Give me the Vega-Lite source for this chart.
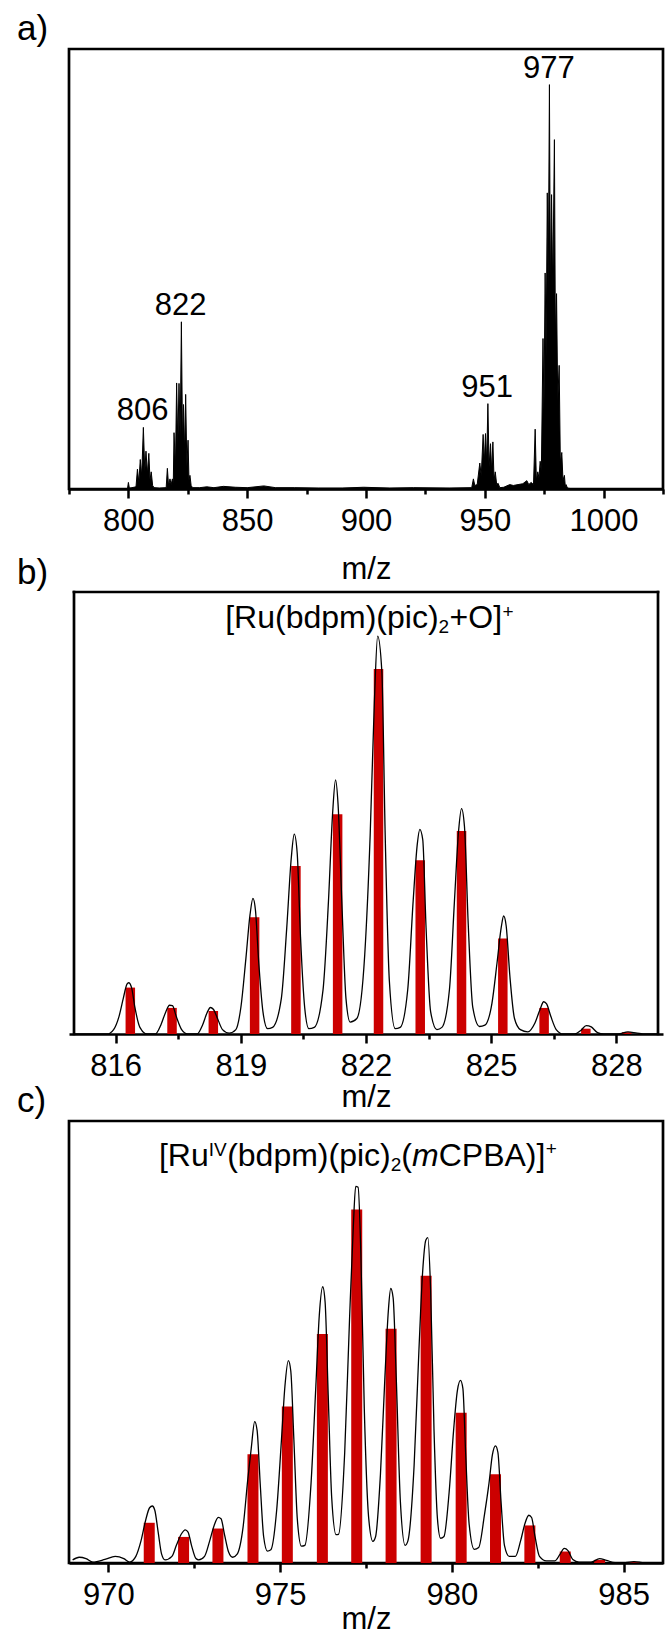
{
  "$schema": "https://vega.github.io/schema/vega-lite/v6.json",
  "padding": {"left": 15, "top": 10, "right": 5, "bottom": 0},
  "background": "white",
  "spacing": 87,
  "bounds": "flush",
  "config": {
    "font": "Liberation Sans",
    "view": {"stroke": "black", "strokeWidth": 2.7},
    "axis": {
      "grid": false,
      "domainColor": "black",
      "domainWidth": 2.7,
      "tickColor": "black",
      "tickWidth": 2.5,
      "tickSize": 9,
      "labelFont": "Liberation Sans",
      "labelFontSize": 31,
      "labelColor": "black",
      "labelPadding": 8,
      "labelFlush": false,
      "labelOverlap": false,
      "labelBound": false,
      "format": "d",
      "titleFont": "Liberation Sans",
      "titleFontSize": 31,
      "titleFontWeight": "normal",
      "titleColor": "black",
      "titleBaseline": "alphabetic"
    },
    "title": {
      "font": "Liberation Sans",
      "fontSize": 35,
      "fontWeight": "normal",
      "color": "black",
      "anchor": "start",
      "frame": "group",
      "dx": -52,
      "offset": 2,
      "baseline": "alphabetic"
    }
  },
  "datasets": {
    "specA": [
      {"mz": 775, "i": 0}, {"mz": 799.6, "i": 0}, {"mz": 800.0, "i": 1.5}, {"mz": 800.4, "i": 0.2}, {"mz": 801.5, "i": 0.3},
      {"mz": 803.2, "i": 0.5}, {"mz": 803.8, "i": 4.5}, {"mz": 804.4, "i": 1.5}, {"mz": 805.0, "i": 6.7}, {"mz": 805.6, "i": 3.0},
      {"mz": 806.3, "i": 14.0}, {"mz": 806.9, "i": 4.0}, {"mz": 807.4, "i": 8.6}, {"mz": 808.0, "i": 3.5}, {"mz": 808.6, "i": 8.1},
      {"mz": 809.1, "i": 2.0}, {"mz": 809.6, "i": 3.9}, {"mz": 810.2, "i": 0.8}, {"mz": 810.8, "i": 0.3}, {"mz": 813, "i": 0.2},
      {"mz": 815.9, "i": 0.3}, {"mz": 816.4, "i": 4.7}, {"mz": 816.9, "i": 0.8}, {"mz": 817.5, "i": 2.3}, {"mz": 818.0, "i": 1.0},
      {"mz": 818.5, "i": 2.3}, {"mz": 818.9, "i": 1.5}, {"mz": 819.2, "i": 12.8}, {"mz": 819.8, "i": 5.0}, {"mz": 820.3, "i": 24.1},
      {"mz": 820.8, "i": 10.0}, {"mz": 821.3, "i": 24.0}, {"mz": 821.8, "i": 12.0}, {"mz": 822.3, "i": 38.0}, {"mz": 822.8, "i": 10.0},
      {"mz": 823.2, "i": 19.2}, {"mz": 823.7, "i": 8.0}, {"mz": 824.1, "i": 21.5}, {"mz": 824.6, "i": 5.0}, {"mz": 825.1, "i": 11.1},
      {"mz": 825.5, "i": 2.0}, {"mz": 825.9, "i": 3.1}, {"mz": 826.4, "i": 0.8}, {"mz": 827.0, "i": 0.3}, {"mz": 830, "i": 0.3},
      {"mz": 833, "i": 0.5}, {"mz": 836, "i": 0.3}, {"mz": 840, "i": 0.6}, {"mz": 845, "i": 0.4}, {"mz": 850, "i": 0.3},
      {"mz": 857, "i": 0.7}, {"mz": 862, "i": 0.3}, {"mz": 870, "i": 0.3}, {"mz": 880, "i": 0.2}, {"mz": 890, "i": 0.2},
      {"mz": 899, "i": 0.4}, {"mz": 910, "i": 0.2}, {"mz": 920, "i": 0.3}, {"mz": 935, "i": 0.2}, {"mz": 944.5, "i": 0.3},
      {"mz": 945.2, "i": 2.3}, {"mz": 945.8, "i": 0.8}, {"mz": 946.8, "i": 1.0}, {"mz": 947.9, "i": 5.9}, {"mz": 948.5, "i": 3.0},
      {"mz": 949.3, "i": 12.4}, {"mz": 949.8, "i": 6.0}, {"mz": 950.3, "i": 12.6}, {"mz": 950.8, "i": 6.0}, {"mz": 951.3, "i": 19.4},
      {"mz": 951.8, "i": 5.0}, {"mz": 952.4, "i": 10.3}, {"mz": 952.9, "i": 4.0}, {"mz": 953.4, "i": 10.7}, {"mz": 953.9, "i": 2.0},
      {"mz": 954.4, "i": 3.9}, {"mz": 955.0, "i": 1.0}, {"mz": 955.6, "i": 1.3}, {"mz": 956.3, "i": 0.3}, {"mz": 958, "i": 0.4},
      {"mz": 960.5, "i": 1.0}, {"mz": 962, "i": 0.8}, {"mz": 964, "i": 1.0}, {"mz": 966, "i": 1.2}, {"mz": 967.7, "i": 1.9},
      {"mz": 968.5, "i": 1.0}, {"mz": 969.5, "i": 1.5}, {"mz": 970.5, "i": 1.0}, {"mz": 971.2, "i": 13.6}, {"mz": 971.7, "i": 2.0},
      {"mz": 972.3, "i": 3.9}, {"mz": 972.8, "i": 2.5}, {"mz": 973.3, "i": 6.3}, {"mz": 973.8, "i": 4.0}, {"mz": 974.5, "i": 34.2},
      {"mz": 974.9, "i": 18.0}, {"mz": 975.4, "i": 49.1}, {"mz": 975.8, "i": 30.0}, {"mz": 976.3, "i": 67.3}, {"mz": 976.7, "i": 45.0},
      {"mz": 977.2, "i": 91.9}, {"mz": 977.6, "i": 45.0}, {"mz": 978.1, "i": 66.9}, {"mz": 978.6, "i": 45.0}, {"mz": 979.3, "i": 79.4},
      {"mz": 979.7, "i": 35.0}, {"mz": 980.2, "i": 44.4}, {"mz": 980.7, "i": 20.0}, {"mz": 981.3, "i": 28.1}, {"mz": 981.8, "i": 6.0},
      {"mz": 982.4, "i": 8.3}, {"mz": 982.9, "i": 2.0}, {"mz": 983.5, "i": 3.1}, {"mz": 983.9, "i": 0.5}, {"mz": 984.2, "i": 1.0},
      {"mz": 984.8, "i": 0.2}, {"mz": 986, "i": 0.1}, {"mz": 1025, "i": 0.1}
    ],
    "labelsA": [
      {"mz": 806, "i": 14.0, "label": "806"},
      {"mz": 822, "i": 38.0, "label": "822"},
      {"mz": 951, "i": 19.4, "label": "951"},
      {"mz": 977, "i": 91.9, "label": "977"}
    ],
    "barsB": [
      {"mz": 816.35, "i": 10.5}, {"mz": 817.35, "i": 5.9}, {"mz": 818.34, "i": 5.2}, {"mz": 819.33, "i": 26.4},
      {"mz": 820.32, "i": 38.0}, {"mz": 821.32, "i": 49.7}, {"mz": 822.30, "i": 82.6}, {"mz": 823.30, "i": 39.3},
      {"mz": 824.29, "i": 45.9}, {"mz": 825.28, "i": 21.6}, {"mz": 826.27, "i": 5.9}, {"mz": 827.27, "i": 1.2},
      {"mz": 828.25, "i": 0.4}
    ],
    "lineB": [
      {"mz": 815.0, "i": 0}, {"mz": 815.8, "i": 0},
      {"mz": 815.95, "i": 1.0}, {"mz": 816.08, "i": 4.0}, {"mz": 816.18, "i": 8.0}, {"mz": 816.27, "i": 11.3}, {"mz": 816.31, "i": 11.6}, {"mz": 816.38, "i": 10.5}, {"mz": 816.46, "i": 6.0}, {"mz": 816.58, "i": 1.5}, {"mz": 816.75, "i": 0},
      {"mz": 816.95, "i": 0}, {"mz": 817.08, "i": 2.0}, {"mz": 817.2, "i": 5.0}, {"mz": 817.29, "i": 6.5}, {"mz": 817.36, "i": 6.4}, {"mz": 817.45, "i": 4.0}, {"mz": 817.58, "i": 1.0}, {"mz": 817.72, "i": 0},
      {"mz": 817.95, "i": 0}, {"mz": 818.08, "i": 2.0}, {"mz": 818.19, "i": 4.8}, {"mz": 818.27, "i": 6.0}, {"mz": 818.34, "i": 5.6}, {"mz": 818.44, "i": 3.5}, {"mz": 818.56, "i": 1.0}, {"mz": 818.72, "i": 0.2},
      {"mz": 818.88, "i": 1.0}, {"mz": 819.0, "i": 6.0}, {"mz": 819.12, "i": 17.0}, {"mz": 819.22, "i": 27.0}, {"mz": 819.29, "i": 30.7}, {"mz": 819.35, "i": 28.0}, {"mz": 819.43, "i": 16.0}, {"mz": 819.53, "i": 5.0}, {"mz": 819.64, "i": 1.2},
      {"mz": 819.76, "i": 1.5}, {"mz": 819.97, "i": 8.0}, {"mz": 820.1, "i": 24.0}, {"mz": 820.21, "i": 40.0}, {"mz": 820.28, "i": 45.2}, {"mz": 820.35, "i": 41.0}, {"mz": 820.43, "i": 22.0}, {"mz": 820.53, "i": 6.0}, {"mz": 820.63, "i": 1.2},
      {"mz": 820.76, "i": 1.5}, {"mz": 820.97, "i": 10.0}, {"mz": 821.1, "i": 30.0}, {"mz": 821.2, "i": 50.0}, {"mz": 821.27, "i": 57.5}, {"mz": 821.33, "i": 52.0}, {"mz": 821.42, "i": 30.0}, {"mz": 821.52, "i": 8.0}, {"mz": 821.62, "i": 2.7},
      {"mz": 821.78, "i": 3.5}, {"mz": 821.97, "i": 18.0}, {"mz": 822.1, "i": 45.0}, {"mz": 822.2, "i": 75.0}, {"mz": 822.28, "i": 90.0}, {"mz": 822.38, "i": 82.0}, {"mz": 822.46, "i": 45.0}, {"mz": 822.56, "i": 12.0}, {"mz": 822.7, "i": 1.2},
      {"mz": 822.82, "i": 1.5}, {"mz": 823.0, "i": 10.0}, {"mz": 823.13, "i": 30.0}, {"mz": 823.23, "i": 43.0}, {"mz": 823.29, "i": 46.3}, {"mz": 823.36, "i": 44.0}, {"mz": 823.44, "i": 24.0}, {"mz": 823.55, "i": 5.0}, {"mz": 823.7, "i": 1.0},
      {"mz": 823.82, "i": 1.5}, {"mz": 824.0, "i": 10.0}, {"mz": 824.12, "i": 30.0}, {"mz": 824.22, "i": 46.0}, {"mz": 824.29, "i": 51.0}, {"mz": 824.36, "i": 47.0}, {"mz": 824.45, "i": 25.0}, {"mz": 824.56, "i": 6.0}, {"mz": 824.72, "i": 1.7},
      {"mz": 824.85, "i": 2.0}, {"mz": 825.02, "i": 7.0}, {"mz": 825.14, "i": 16.0}, {"mz": 825.24, "i": 24.0}, {"mz": 825.3, "i": 26.7}, {"mz": 825.36, "i": 24.5}, {"mz": 825.45, "i": 13.0}, {"mz": 825.56, "i": 3.5}, {"mz": 825.7, "i": 1.0},
      {"mz": 825.88, "i": 0.5}, {"mz": 826.05, "i": 2.5}, {"mz": 826.17, "i": 5.5}, {"mz": 826.26, "i": 7.3}, {"mz": 826.33, "i": 6.8}, {"mz": 826.43, "i": 4.0}, {"mz": 826.56, "i": 1.0}, {"mz": 826.72, "i": 0},
      {"mz": 827.0, "i": 0}, {"mz": 827.15, "i": 0.8}, {"mz": 827.28, "i": 1.9}, {"mz": 827.4, "i": 1.6}, {"mz": 827.55, "i": 0.3}, {"mz": 827.7, "i": 0},
      {"mz": 828.05, "i": 0}, {"mz": 828.28, "i": 0.5}, {"mz": 828.5, "i": 0.2}, {"mz": 828.7, "i": 0}, {"mz": 829.0, "i": 0}
    ],
    "barsC": [
      {"mz": 971.19, "i": 9.1}, {"mz": 972.19, "i": 5.9}, {"mz": 973.19, "i": 7.8}, {"mz": 974.21, "i": 24.6},
      {"mz": 975.21, "i": 35.4}, {"mz": 976.23, "i": 51.8}, {"mz": 977.23, "i": 80.0}, {"mz": 978.23, "i": 53.0},
      {"mz": 979.25, "i": 65.0}, {"mz": 980.27, "i": 34.0}, {"mz": 981.27, "i": 20.1}, {"mz": 982.27, "i": 8.5},
      {"mz": 983.30, "i": 2.6}, {"mz": 984.30, "i": 0.7}, {"mz": 985.32, "i": 0.2}
    ],
    "lineC": [
      {"mz": 968.96, "i": 0.7}, {"mz": 969.15, "i": 1.3}, {"mz": 969.35, "i": 1.0}, {"mz": 969.55, "i": 0.2}, {"mz": 969.9, "i": 0.8}, {"mz": 970.2, "i": 1.5}, {"mz": 970.45, "i": 1.0}, {"mz": 970.62, "i": 0.2},
      {"mz": 970.8, "i": 1.5}, {"mz": 970.95, "i": 5.0}, {"mz": 971.08, "i": 9.5}, {"mz": 971.2, "i": 12.5}, {"mz": 971.28, "i": 12.9}, {"mz": 971.35, "i": 12.0}, {"mz": 971.45, "i": 7.0}, {"mz": 971.55, "i": 2.0}, {"mz": 971.65, "i": 0.7},
      {"mz": 971.85, "i": 1.5}, {"mz": 971.98, "i": 4.0}, {"mz": 972.12, "i": 6.5}, {"mz": 972.24, "i": 7.5}, {"mz": 972.32, "i": 7.0}, {"mz": 972.42, "i": 4.0}, {"mz": 972.55, "i": 1.0}, {"mz": 972.63, "i": 0.7},
      {"mz": 972.8, "i": 1.5}, {"mz": 972.95, "i": 5.0}, {"mz": 973.08, "i": 8.5}, {"mz": 973.2, "i": 10.3}, {"mz": 973.28, "i": 10.0}, {"mz": 973.38, "i": 6.5}, {"mz": 973.5, "i": 2.5}, {"mz": 973.62, "i": 1.3},
      {"mz": 973.75, "i": 2.0}, {"mz": 973.92, "i": 8.0}, {"mz": 974.06, "i": 19.0}, {"mz": 974.16, "i": 26.0}, {"mz": 974.26, "i": 32.0}, {"mz": 974.33, "i": 30.0}, {"mz": 974.42, "i": 18.0}, {"mz": 974.52, "i": 6.0}, {"mz": 974.63, "i": 2.7},
      {"mz": 974.73, "i": 3.0}, {"mz": 974.9, "i": 12.0}, {"mz": 975.04, "i": 28.0}, {"mz": 975.14, "i": 40.0}, {"mz": 975.24, "i": 45.8}, {"mz": 975.31, "i": 43.5}, {"mz": 975.4, "i": 28.0}, {"mz": 975.5, "i": 10.0}, {"mz": 975.62, "i": 3.8},
      {"mz": 975.72, "i": 4.0}, {"mz": 975.9, "i": 18.0}, {"mz": 976.04, "i": 40.0}, {"mz": 976.14, "i": 56.0}, {"mz": 976.24, "i": 62.5}, {"mz": 976.31, "i": 59.0}, {"mz": 976.4, "i": 38.0}, {"mz": 976.5, "i": 15.0}, {"mz": 976.63, "i": 6.4},
      {"mz": 976.7, "i": 6.5}, {"mz": 976.88, "i": 25.0}, {"mz": 977.02, "i": 55.0}, {"mz": 977.13, "i": 76.0}, {"mz": 977.2, "i": 85.2}, {"mz": 977.27, "i": 85.0}, {"mz": 977.35, "i": 70.0}, {"mz": 977.45, "i": 35.0}, {"mz": 977.58, "i": 10.0}, {"mz": 977.7, "i": 4.9},
      {"mz": 977.78, "i": 6.0}, {"mz": 977.92, "i": 20.0}, {"mz": 978.05, "i": 42.0}, {"mz": 978.15, "i": 57.0}, {"mz": 978.22, "i": 62.1}, {"mz": 978.29, "i": 60.0}, {"mz": 978.38, "i": 42.0}, {"mz": 978.5, "i": 14.0}, {"mz": 978.64, "i": 4.0},
      {"mz": 978.72, "i": 5.0}, {"mz": 978.9, "i": 22.0}, {"mz": 979.04, "i": 48.0}, {"mz": 979.15, "i": 66.0}, {"mz": 979.24, "i": 73.0}, {"mz": 979.3, "i": 73.6}, {"mz": 979.38, "i": 62.0}, {"mz": 979.48, "i": 30.0}, {"mz": 979.58, "i": 10.0}, {"mz": 979.67, "i": 5.6},
      {"mz": 979.77, "i": 6.0}, {"mz": 979.92, "i": 16.0}, {"mz": 980.05, "i": 30.0}, {"mz": 980.16, "i": 39.0}, {"mz": 980.25, "i": 41.3}, {"mz": 980.32, "i": 39.5}, {"mz": 980.4, "i": 25.0}, {"mz": 980.5, "i": 9.0}, {"mz": 980.65, "i": 3.1},
      {"mz": 980.78, "i": 3.5}, {"mz": 980.95, "i": 11.0}, {"mz": 981.08, "i": 18.0}, {"mz": 981.18, "i": 24.5}, {"mz": 981.27, "i": 26.5}, {"mz": 981.34, "i": 25.0}, {"mz": 981.43, "i": 14.0}, {"mz": 981.53, "i": 4.0}, {"mz": 981.67, "i": 1.5},
      {"mz": 981.85, "i": 1.5}, {"mz": 982.0, "i": 5.0}, {"mz": 982.13, "i": 9.0}, {"mz": 982.24, "i": 10.8}, {"mz": 982.32, "i": 10.3}, {"mz": 982.42, "i": 6.0}, {"mz": 982.55, "i": 1.5}, {"mz": 982.75, "i": 0.5},
      {"mz": 983.0, "i": 0.5}, {"mz": 983.15, "i": 2.0}, {"mz": 983.27, "i": 3.3}, {"mz": 983.38, "i": 2.8}, {"mz": 983.52, "i": 0.8}, {"mz": 983.7, "i": 0.2},
      {"mz": 984.05, "i": 0.2}, {"mz": 984.3, "i": 1.0}, {"mz": 984.5, "i": 0.6}, {"mz": 984.75, "i": 0.1},
      {"mz": 985.05, "i": 0.1}, {"mz": 985.3, "i": 0.3}, {"mz": 985.6, "i": 0.05}, {"mz": 986.0, "i": 0}
    ],
    "one": [{}]
  },
  "vconcat": [
    {
      "width": 594,
      "height": 440,
      "title": {"text": "a)"},
      "resolve": {"axis": {"x": "independent"}},
      "layer": [
        {
          "data": {"name": "specA"},
          "mark": {"type": "area", "color": "black", "stroke": "black", "strokeWidth": 1, "clip": true, "interpolate": "linear"},
          "encoding": {
            "x": {"field": "mz", "type": "quantitative", "scale": {"domain": [775, 1025], "nice": false, "zero": false},
                  "axis": {"orient": "bottom", "values": [800, 850, 900, 950, 1000], "title": "m/z", "titleY": 89}},
            "y": {"field": "i", "type": "quantitative", "scale": {"domain": [0, 100], "nice": false}, "axis": null}
          }
        },
        {
          "data": {"name": "labelsA"},
          "mark": {"type": "text", "fontSize": 31, "dy": -7, "baseline": "alphabetic", "align": "center", "color": "black"},
          "encoding": {
            "x": {"field": "mz", "type": "quantitative", "scale": {"domain": [775, 1025], "nice": false, "zero": false},
                  "axis": {"orient": "bottom", "values": [775, 825, 875, 925, 975, 1025], "labels": false, "domain": false, "tickSize": 5, "title": null}},
            "y": {"field": "i", "type": "quantitative", "scale": {"domain": [0, 100], "nice": false}, "axis": null},
            "text": {"field": "label"}
          }
        }
      ]
    },
    {
      "width": 594,
      "height": 458,
      "view": {"stroke": null},
      "title": {"text": "b)", "dy": 17},
      "resolve": {"axis": {"x": "independent"}},
      "layer": [
        {
          "data": {"name": "barsB"},
          "mark": {"type": "bar", "color": "#CC0000", "size": 9.5, "orient": "vertical"},
          "encoding": {
            "x": {"field": "mz", "type": "quantitative", "scale": {"domain": [815, 829], "nice": false, "zero": false},
                  "axis": {"orient": "bottom", "values": [816, 819, 822, 825, 828], "title": "m/z", "titleY": 72.5}},
            "y": {"field": "i", "type": "quantitative", "scale": {"domain": [0, 103.62], "nice": false}, "axis": null}
          }
        },
        {
          "data": {"name": "lineB"},
          "mark": {"type": "line", "color": "black", "strokeWidth": 1.3, "interpolate": "monotone", "clip": true},
          "encoding": {
            "x": {"field": "mz", "type": "quantitative", "scale": {"domain": [815, 829], "nice": false, "zero": false},
                  "axis": {"orient": "bottom", "values": [817.5, 820.5, 823.5, 826.5], "labels": false, "domain": false, "tickSize": 5, "title": null}},
            "y": {"field": "i", "type": "quantitative", "scale": {"domain": [0, 103.62], "nice": false}, "axis": null}
          }
        },
        {
          "data": {"name": "one"},
          "mark": {"type": "rule", "color": "black", "strokeWidth": 2.7, "strokeCap": "square"},
          "encoding": {
            "x": {"datum": 815, "type": "quantitative", "scale": {"domain": [815, 829], "nice": false, "zero": false}, "axis": null},
            "x2": {"datum": 829},
            "y": {"datum": 100, "type": "quantitative", "scale": {"domain": [0, 103.62], "nice": false}, "axis": null}
          }
        },
        {
          "data": {"name": "one"},
          "mark": {"type": "rule", "color": "black", "strokeWidth": 2.7, "strokeCap": "square"},
          "encoding": {
            "x": {"datum": 815, "type": "quantitative", "scale": {"domain": [815, 829], "nice": false, "zero": false}, "axis": null},
            "y": {"datum": 0, "type": "quantitative", "scale": {"domain": [0, 103.62], "nice": false}, "axis": null},
            "y2": {"datum": 100}
          }
        },
        {
          "data": {"name": "one"},
          "mark": {"type": "rule", "color": "black", "strokeWidth": 2.7, "strokeCap": "square"},
          "encoding": {
            "x": {"datum": 829, "type": "quantitative", "scale": {"domain": [815, 829], "nice": false, "zero": false}, "axis": null},
            "y": {"datum": 0, "type": "quantitative", "scale": {"domain": [0, 103.62], "nice": false}, "axis": null},
            "y2": {"datum": 100}
          }
        },
        {
          "data": {"name": "one"},
          "mark": {"type": "text", "align": "right", "baseline": "alphabetic", "fontSize": 32, "color": "black"},
          "encoding": {
            "x": {"datum": 823.74, "type": "quantitative", "scale": {"domain": [815, 829], "nice": false, "zero": false}, "axis": null},
            "y": {"datum": 91.9, "type": "quantitative", "scale": {"domain": [0, 103.62], "nice": false}, "axis": null},
            "text": {"value": "[Ru(bdpm)(pic)"}
          }
        },
        {
          "data": {"name": "one"},
          "mark": {"type": "text", "align": "left", "baseline": "alphabetic", "fontSize": 19, "dy": 5, "color": "black"},
          "encoding": {
            "x": {"datum": 823.74, "type": "quantitative", "scale": {"domain": [815, 829], "nice": false, "zero": false}, "axis": null},
            "y": {"datum": 91.9, "type": "quantitative", "scale": {"domain": [0, 103.62], "nice": false}, "axis": null},
            "text": {"value": "2"}
          }
        },
        {
          "data": {"name": "one"},
          "mark": {"type": "text", "align": "left", "baseline": "alphabetic", "fontSize": 32, "dx": 11, "color": "black"},
          "encoding": {
            "x": {"datum": 823.74, "type": "quantitative", "scale": {"domain": [815, 829], "nice": false, "zero": false}, "axis": null},
            "y": {"datum": 91.9, "type": "quantitative", "scale": {"domain": [0, 103.62], "nice": false}, "axis": null},
            "text": {"value": "+O]"}
          }
        },
        {
          "data": {"name": "one"},
          "mark": {"type": "text", "align": "left", "baseline": "alphabetic", "fontSize": 19, "dx": 64, "dy": -10, "color": "black"},
          "encoding": {
            "x": {"datum": 823.74, "type": "quantitative", "scale": {"domain": [815, 829], "nice": false, "zero": false}, "axis": null},
            "y": {"datum": 91.9, "type": "quantitative", "scale": {"domain": [0, 103.62], "nice": false}, "axis": null},
            "text": {"value": "+"}
          }
        }
      ]
    },
    {
      "width": 594,
      "height": 442,
      "title": {"text": "c)"},
      "resolve": {"axis": {"x": "independent"}},
      "layer": [
        {
          "data": {"name": "barsC"},
          "mark": {"type": "bar", "color": "#CC0000", "size": 11, "orient": "vertical"},
          "encoding": {
            "x": {"field": "mz", "type": "quantitative", "scale": {"domain": [969, 986], "nice": false, "zero": false},
                  "axis": {"orient": "bottom", "values": [970, 975, 980, 985], "title": "m/z", "titleY": 65}},
            "y": {"field": "i", "type": "quantitative", "scale": {"domain": [0, 100], "nice": false}, "axis": null}
          }
        },
        {
          "data": {"name": "lineC"},
          "mark": {"type": "line", "color": "black", "strokeWidth": 1.3, "interpolate": "monotone", "clip": true},
          "encoding": {
            "x": {"field": "mz", "type": "quantitative", "scale": {"domain": [969, 986], "nice": false, "zero": false},
                  "axis": {"orient": "bottom", "values": [972.5, 977.5, 982.5], "labels": false, "domain": false, "tickSize": 5, "title": null}},
            "y": {"field": "i", "type": "quantitative", "scale": {"domain": [0, 100], "nice": false}, "axis": null}
          }
        },
        {
          "data": {"name": "one"},
          "mark": {"type": "text", "align": "right", "baseline": "alphabetic", "fontSize": 32, "dx": -182, "color": "black"},
          "encoding": {
            "x": {"datum": 978.22, "type": "quantitative", "scale": {"domain": [969, 986], "nice": false, "zero": false}, "axis": null},
            "y": {"datum": 89.8, "type": "quantitative", "scale": {"domain": [0, 100], "nice": false}, "axis": null},
            "text": {"value": "[Ru"}
          }
        },
        {
          "data": {"name": "one"},
          "mark": {"type": "text", "align": "right", "baseline": "alphabetic", "fontSize": 19, "dx": -164, "dy": -10, "color": "black"},
          "encoding": {
            "x": {"datum": 978.22, "type": "quantitative", "scale": {"domain": [969, 986], "nice": false, "zero": false}, "axis": null},
            "y": {"datum": 89.8, "type": "quantitative", "scale": {"domain": [0, 100], "nice": false}, "axis": null},
            "text": {"value": "IV"}
          }
        },
        {
          "data": {"name": "one"},
          "mark": {"type": "text", "align": "right", "baseline": "alphabetic", "fontSize": 32, "color": "black"},
          "encoding": {
            "x": {"datum": 978.22, "type": "quantitative", "scale": {"domain": [969, 986], "nice": false, "zero": false}, "axis": null},
            "y": {"datum": 89.8, "type": "quantitative", "scale": {"domain": [0, 100], "nice": false}, "axis": null},
            "text": {"value": "(bdpm)(pic)"}
          }
        },
        {
          "data": {"name": "one"},
          "mark": {"type": "text", "align": "left", "baseline": "alphabetic", "fontSize": 19, "dy": 5, "color": "black"},
          "encoding": {
            "x": {"datum": 978.22, "type": "quantitative", "scale": {"domain": [969, 986], "nice": false, "zero": false}, "axis": null},
            "y": {"datum": 89.8, "type": "quantitative", "scale": {"domain": [0, 100], "nice": false}, "axis": null},
            "text": {"value": "2"}
          }
        },
        {
          "data": {"name": "one"},
          "mark": {"type": "text", "align": "left", "baseline": "alphabetic", "fontSize": 32, "dx": 10.6, "color": "black"},
          "encoding": {
            "x": {"datum": 978.22, "type": "quantitative", "scale": {"domain": [969, 986], "nice": false, "zero": false}, "axis": null},
            "y": {"datum": 89.8, "type": "quantitative", "scale": {"domain": [0, 100], "nice": false}, "axis": null},
            "text": {"value": "("}
          }
        },
        {
          "data": {"name": "one"},
          "mark": {"type": "text", "align": "left", "baseline": "alphabetic", "fontSize": 32, "fontStyle": "italic", "dx": 21.3, "color": "black"},
          "encoding": {
            "x": {"datum": 978.22, "type": "quantitative", "scale": {"domain": [969, 986], "nice": false, "zero": false}, "axis": null},
            "y": {"datum": 89.8, "type": "quantitative", "scale": {"domain": [0, 100], "nice": false}, "axis": null},
            "text": {"value": "m"}
          }
        },
        {
          "data": {"name": "one"},
          "mark": {"type": "text", "align": "left", "baseline": "alphabetic", "fontSize": 32, "dx": 48, "color": "black"},
          "encoding": {
            "x": {"datum": 978.22, "type": "quantitative", "scale": {"domain": [969, 986], "nice": false, "zero": false}, "axis": null},
            "y": {"datum": 89.8, "type": "quantitative", "scale": {"domain": [0, 100], "nice": false}, "axis": null},
            "text": {"value": "CPBA)]"}
          }
        },
        {
          "data": {"name": "one"},
          "mark": {"type": "text", "align": "left", "baseline": "alphabetic", "fontSize": 19, "dx": 155, "dy": -11, "color": "black"},
          "encoding": {
            "x": {"datum": 978.22, "type": "quantitative", "scale": {"domain": [969, 986], "nice": false, "zero": false}, "axis": null},
            "y": {"datum": 89.8, "type": "quantitative", "scale": {"domain": [0, 100], "nice": false}, "axis": null},
            "text": {"value": "+"}
          }
        }
      ]
    }
  ]
}
